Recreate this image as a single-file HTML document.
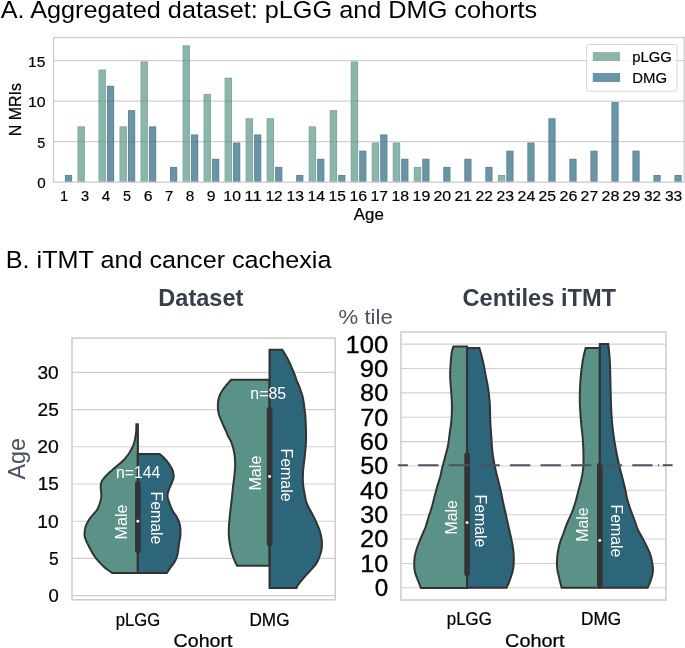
<!DOCTYPE html>
<html><head><meta charset="utf-8"><style>
html,body{margin:0;padding:0;background:#fff;}
body{width:685px;height:648px;overflow:hidden;}
svg{display:block;font-family:"Liberation Sans",sans-serif;will-change:transform;}
</style></head><body>
<svg width="685" height="648" viewBox="0 0 685 648">
<rect width="685" height="648" fill="#fff"/>
<g stroke="#d0d0d0" stroke-width="1.1">
<line x1="53.5" x2="684.1" y1="141.67" y2="141.67"/>
<line x1="53.5" x2="684.1" y1="101.14" y2="101.14"/>
<line x1="53.5" x2="684.1" y1="60.60" y2="60.60"/>
</g>
<rect x="64.91" y="174.99" width="7.20" height="7.01" fill="rgba(44,103,126,0.7)"/>
<path d="M65.41,181.5 V175.49 H71.61 V181.5" fill="none" stroke="rgba(20,70,95,0.12)" stroke-width="1"/>
<rect x="77.48" y="126.35" width="7.40" height="55.65" fill="rgba(91,149,137,0.7)"/>
<path d="M77.98,181.5 V126.85 H84.38 V181.5" fill="none" stroke="rgba(60,110,100,0.12)" stroke-width="1"/>
<rect x="98.50" y="69.61" width="7.40" height="112.39" fill="rgba(91,149,137,0.7)"/>
<path d="M99.00,181.5 V70.11 H105.40 V181.5" fill="none" stroke="rgba(60,110,100,0.12)" stroke-width="1"/>
<rect x="106.95" y="85.82" width="7.20" height="96.18" fill="rgba(44,103,126,0.7)"/>
<path d="M107.45,181.5 V86.32 H113.65 V181.5" fill="none" stroke="rgba(20,70,95,0.12)" stroke-width="1"/>
<rect x="119.52" y="126.35" width="7.40" height="55.65" fill="rgba(91,149,137,0.7)"/>
<path d="M120.02,181.5 V126.85 H126.42 V181.5" fill="none" stroke="rgba(60,110,100,0.12)" stroke-width="1"/>
<rect x="127.97" y="110.14" width="7.20" height="71.86" fill="rgba(44,103,126,0.7)"/>
<path d="M128.47,181.5 V110.64 H134.67 V181.5" fill="none" stroke="rgba(20,70,95,0.12)" stroke-width="1"/>
<rect x="140.54" y="61.50" width="7.40" height="120.50" fill="rgba(91,149,137,0.7)"/>
<path d="M141.04,181.5 V62.00 H147.44 V181.5" fill="none" stroke="rgba(60,110,100,0.12)" stroke-width="1"/>
<rect x="148.99" y="126.35" width="7.20" height="55.65" fill="rgba(44,103,126,0.7)"/>
<path d="M149.49,181.5 V126.85 H155.69 V181.5" fill="none" stroke="rgba(20,70,95,0.12)" stroke-width="1"/>
<rect x="170.01" y="166.89" width="7.20" height="15.11" fill="rgba(44,103,126,0.7)"/>
<path d="M170.51,181.5 V167.39 H176.71 V181.5" fill="none" stroke="rgba(20,70,95,0.12)" stroke-width="1"/>
<rect x="182.58" y="45.29" width="7.40" height="136.71" fill="rgba(91,149,137,0.7)"/>
<path d="M183.08,181.5 V45.79 H189.48 V181.5" fill="none" stroke="rgba(60,110,100,0.12)" stroke-width="1"/>
<rect x="191.03" y="134.46" width="7.20" height="47.54" fill="rgba(44,103,126,0.7)"/>
<path d="M191.53,181.5 V134.96 H197.73 V181.5" fill="none" stroke="rgba(20,70,95,0.12)" stroke-width="1"/>
<rect x="203.60" y="93.93" width="7.40" height="88.07" fill="rgba(91,149,137,0.7)"/>
<path d="M204.10,181.5 V94.43 H210.50 V181.5" fill="none" stroke="rgba(60,110,100,0.12)" stroke-width="1"/>
<rect x="212.05" y="158.78" width="7.20" height="23.22" fill="rgba(44,103,126,0.7)"/>
<path d="M212.55,181.5 V159.28 H218.75 V181.5" fill="none" stroke="rgba(20,70,95,0.12)" stroke-width="1"/>
<rect x="224.62" y="77.72" width="7.40" height="104.28" fill="rgba(91,149,137,0.7)"/>
<path d="M225.12,181.5 V78.22 H231.52 V181.5" fill="none" stroke="rgba(60,110,100,0.12)" stroke-width="1"/>
<rect x="233.07" y="142.57" width="7.20" height="39.43" fill="rgba(44,103,126,0.7)"/>
<path d="M233.57,181.5 V143.07 H239.77 V181.5" fill="none" stroke="rgba(20,70,95,0.12)" stroke-width="1"/>
<rect x="245.64" y="118.25" width="7.40" height="63.75" fill="rgba(91,149,137,0.7)"/>
<path d="M246.14,181.5 V118.75 H252.54 V181.5" fill="none" stroke="rgba(60,110,100,0.12)" stroke-width="1"/>
<rect x="254.09" y="134.46" width="7.20" height="47.54" fill="rgba(44,103,126,0.7)"/>
<path d="M254.59,181.5 V134.96 H260.79 V181.5" fill="none" stroke="rgba(20,70,95,0.12)" stroke-width="1"/>
<rect x="266.66" y="118.25" width="7.40" height="63.75" fill="rgba(91,149,137,0.7)"/>
<path d="M267.16,181.5 V118.75 H273.56 V181.5" fill="none" stroke="rgba(60,110,100,0.12)" stroke-width="1"/>
<rect x="275.11" y="166.89" width="7.20" height="15.11" fill="rgba(44,103,126,0.7)"/>
<path d="M275.61,181.5 V167.39 H281.81 V181.5" fill="none" stroke="rgba(20,70,95,0.12)" stroke-width="1"/>
<rect x="296.13" y="174.99" width="7.20" height="7.01" fill="rgba(44,103,126,0.7)"/>
<path d="M296.63,181.5 V175.49 H302.83 V181.5" fill="none" stroke="rgba(20,70,95,0.12)" stroke-width="1"/>
<rect x="308.70" y="126.35" width="7.40" height="55.65" fill="rgba(91,149,137,0.7)"/>
<path d="M309.20,181.5 V126.85 H315.60 V181.5" fill="none" stroke="rgba(60,110,100,0.12)" stroke-width="1"/>
<rect x="317.15" y="158.78" width="7.20" height="23.22" fill="rgba(44,103,126,0.7)"/>
<path d="M317.65,181.5 V159.28 H323.85 V181.5" fill="none" stroke="rgba(20,70,95,0.12)" stroke-width="1"/>
<rect x="329.72" y="110.14" width="7.40" height="71.86" fill="rgba(91,149,137,0.7)"/>
<path d="M330.22,181.5 V110.64 H336.62 V181.5" fill="none" stroke="rgba(60,110,100,0.12)" stroke-width="1"/>
<rect x="338.17" y="174.99" width="7.20" height="7.01" fill="rgba(44,103,126,0.7)"/>
<path d="M338.67,181.5 V175.49 H344.87 V181.5" fill="none" stroke="rgba(20,70,95,0.12)" stroke-width="1"/>
<rect x="350.74" y="61.50" width="7.40" height="120.50" fill="rgba(91,149,137,0.7)"/>
<path d="M351.24,181.5 V62.00 H357.64 V181.5" fill="none" stroke="rgba(60,110,100,0.12)" stroke-width="1"/>
<rect x="359.19" y="150.67" width="7.20" height="31.33" fill="rgba(44,103,126,0.7)"/>
<path d="M359.69,181.5 V151.17 H365.89 V181.5" fill="none" stroke="rgba(20,70,95,0.12)" stroke-width="1"/>
<rect x="371.76" y="142.57" width="7.40" height="39.43" fill="rgba(91,149,137,0.7)"/>
<path d="M372.26,181.5 V143.07 H378.66 V181.5" fill="none" stroke="rgba(60,110,100,0.12)" stroke-width="1"/>
<rect x="380.21" y="134.46" width="7.20" height="47.54" fill="rgba(44,103,126,0.7)"/>
<path d="M380.71,181.5 V134.96 H386.91 V181.5" fill="none" stroke="rgba(20,70,95,0.12)" stroke-width="1"/>
<rect x="392.78" y="142.57" width="7.40" height="39.43" fill="rgba(91,149,137,0.7)"/>
<path d="M393.28,181.5 V143.07 H399.68 V181.5" fill="none" stroke="rgba(60,110,100,0.12)" stroke-width="1"/>
<rect x="401.23" y="158.78" width="7.20" height="23.22" fill="rgba(44,103,126,0.7)"/>
<path d="M401.73,181.5 V159.28 H407.93 V181.5" fill="none" stroke="rgba(20,70,95,0.12)" stroke-width="1"/>
<rect x="413.80" y="166.89" width="7.40" height="15.11" fill="rgba(91,149,137,0.7)"/>
<path d="M414.30,181.5 V167.39 H420.70 V181.5" fill="none" stroke="rgba(60,110,100,0.12)" stroke-width="1"/>
<rect x="422.25" y="158.78" width="7.20" height="23.22" fill="rgba(44,103,126,0.7)"/>
<path d="M422.75,181.5 V159.28 H428.95 V181.5" fill="none" stroke="rgba(20,70,95,0.12)" stroke-width="1"/>
<rect x="443.27" y="166.89" width="7.20" height="15.11" fill="rgba(44,103,126,0.7)"/>
<path d="M443.77,181.5 V167.39 H449.97 V181.5" fill="none" stroke="rgba(20,70,95,0.12)" stroke-width="1"/>
<rect x="464.29" y="158.78" width="7.20" height="23.22" fill="rgba(44,103,126,0.7)"/>
<path d="M464.79,181.5 V159.28 H470.99 V181.5" fill="none" stroke="rgba(20,70,95,0.12)" stroke-width="1"/>
<rect x="485.31" y="166.89" width="7.20" height="15.11" fill="rgba(44,103,126,0.7)"/>
<path d="M485.81,181.5 V167.39 H492.01 V181.5" fill="none" stroke="rgba(20,70,95,0.12)" stroke-width="1"/>
<rect x="497.88" y="174.99" width="7.40" height="7.01" fill="rgba(91,149,137,0.7)"/>
<path d="M498.38,181.5 V175.49 H504.78 V181.5" fill="none" stroke="rgba(60,110,100,0.12)" stroke-width="1"/>
<rect x="506.33" y="150.67" width="7.20" height="31.33" fill="rgba(44,103,126,0.7)"/>
<path d="M506.83,181.5 V151.17 H513.03 V181.5" fill="none" stroke="rgba(20,70,95,0.12)" stroke-width="1"/>
<rect x="527.35" y="142.57" width="7.20" height="39.43" fill="rgba(44,103,126,0.7)"/>
<path d="M527.85,181.5 V143.07 H534.05 V181.5" fill="none" stroke="rgba(20,70,95,0.12)" stroke-width="1"/>
<rect x="548.37" y="118.25" width="7.20" height="63.75" fill="rgba(44,103,126,0.7)"/>
<path d="M548.87,181.5 V118.75 H555.07 V181.5" fill="none" stroke="rgba(20,70,95,0.12)" stroke-width="1"/>
<rect x="569.39" y="158.78" width="7.20" height="23.22" fill="rgba(44,103,126,0.7)"/>
<path d="M569.89,181.5 V159.28 H576.09 V181.5" fill="none" stroke="rgba(20,70,95,0.12)" stroke-width="1"/>
<rect x="590.41" y="150.67" width="7.20" height="31.33" fill="rgba(44,103,126,0.7)"/>
<path d="M590.91,181.5 V151.17 H597.11 V181.5" fill="none" stroke="rgba(20,70,95,0.12)" stroke-width="1"/>
<rect x="611.43" y="102.04" width="7.20" height="79.96" fill="rgba(44,103,126,0.7)"/>
<path d="M611.93,181.5 V102.54 H618.13 V181.5" fill="none" stroke="rgba(20,70,95,0.12)" stroke-width="1"/>
<rect x="632.45" y="150.67" width="7.20" height="31.33" fill="rgba(44,103,126,0.7)"/>
<path d="M632.95,181.5 V151.17 H639.15 V181.5" fill="none" stroke="rgba(20,70,95,0.12)" stroke-width="1"/>
<rect x="653.47" y="174.99" width="7.20" height="7.01" fill="rgba(44,103,126,0.7)"/>
<path d="M653.97,181.5 V175.49 H660.17 V181.5" fill="none" stroke="rgba(20,70,95,0.12)" stroke-width="1"/>
<rect x="674.49" y="174.99" width="7.20" height="7.01" fill="rgba(44,103,126,0.7)"/>
<path d="M674.99,181.5 V175.49 H681.19 V181.5" fill="none" stroke="rgba(20,70,95,0.12)" stroke-width="1"/>
<rect x="53.5" y="37.5" width="630.60" height="144.70" fill="none" stroke="#cccccc" stroke-width="1.3"/>
<rect x="586.6" y="44.5" width="90.5" height="46.7" rx="2.5" fill="rgba(255,255,255,0.8)" stroke="#d6d6d6" stroke-width="1"/>
<rect x="592.8" y="52.1" width="27.3" height="8.9" fill="rgba(91,149,137,0.7)"/>
<rect x="592.8" y="73" width="27.3" height="9" fill="rgba(44,103,126,0.7)"/>
<g stroke="#d0d0d0" stroke-width="1.1">
<line x1="72" x2="335.2" y1="595.60" y2="595.60"/>
<line x1="72" x2="335.2" y1="558.40" y2="558.40"/>
<line x1="72" x2="335.2" y1="521.20" y2="521.20"/>
<line x1="72" x2="335.2" y1="484.00" y2="484.00"/>
<line x1="72" x2="335.2" y1="446.80" y2="446.80"/>
<line x1="72" x2="335.2" y1="409.60" y2="409.60"/>
<line x1="72" x2="335.2" y1="372.40" y2="372.40"/>
</g>
<g stroke="#d0d0d0" stroke-width="1.1">
<line x1="401" x2="666" y1="587.80" y2="587.80"/>
<line x1="401" x2="666" y1="563.43" y2="563.43"/>
<line x1="401" x2="666" y1="539.06" y2="539.06"/>
<line x1="401" x2="666" y1="514.69" y2="514.69"/>
<line x1="401" x2="666" y1="490.32" y2="490.32"/>
<line x1="401" x2="666" y1="465.95" y2="465.95"/>
<line x1="401" x2="666" y1="441.58" y2="441.58"/>
<line x1="401" x2="666" y1="417.21" y2="417.21"/>
<line x1="401" x2="666" y1="392.84" y2="392.84"/>
<line x1="401" x2="666" y1="368.47" y2="368.47"/>
<line x1="401" x2="666" y1="344.10" y2="344.10"/>
</g>
<path d="M137.80,424.30 L136.40,424.30  C136.37,425.42 136.33,429.05 136.20,431.00 C136.07,432.95 135.80,434.65 135.60,436.00 C135.40,437.35 135.22,438.07 135.00,439.10 C134.78,440.13 134.58,441.17 134.30,442.20 C134.02,443.23 133.70,444.28 133.30,445.30 C132.90,446.32 132.42,447.28 131.90,448.30 C131.38,449.32 130.82,450.37 130.20,451.40 C129.58,452.43 128.97,453.43 128.20,454.50 C127.43,455.57 126.52,456.72 125.60,457.80 C124.68,458.88 123.70,460.00 122.70,461.00 C121.70,462.00 120.65,462.90 119.60,463.80 C118.55,464.70 117.60,465.38 116.40,466.40 C115.20,467.42 113.65,468.80 112.40,469.90 C111.15,471.00 110.00,471.98 108.90,473.00 C107.80,474.02 106.73,475.00 105.80,476.00 C104.87,477.00 103.97,478.13 103.30,479.00 C102.63,479.87 102.23,479.95 101.80,481.20 C101.37,482.45 100.82,484.75 100.70,486.50 C100.58,488.25 101.00,489.95 101.10,491.70 C101.20,493.45 101.52,495.03 101.30,497.00 C101.08,498.97 100.55,501.30 99.80,503.50 C99.05,505.70 98.05,508.20 96.80,510.20 C95.55,512.20 93.70,513.75 92.30,515.50 C90.90,517.25 89.48,518.95 88.40,520.70 C87.32,522.45 86.42,524.25 85.80,526.00 C85.18,527.75 84.88,529.45 84.70,531.20 C84.52,532.95 84.35,534.67 84.70,536.50 C85.05,538.33 85.93,540.23 86.80,542.20 C87.67,544.17 88.82,546.25 89.90,548.30 C90.98,550.35 91.97,552.43 93.30,554.50 C94.63,556.57 96.10,558.63 97.90,560.70 C99.70,562.77 101.75,564.85 104.10,566.90 C106.45,568.95 110.68,571.98 112.00,573.00 L137.80,573.00 Z" fill="#5b9287" stroke="#333333" stroke-width="2" stroke-linejoin="miter" stroke-miterlimit="4"/>
<path d="M137.80,453.90 L159.60,453.90  C160.23,454.47 161.88,455.70 163.40,457.30 C164.92,458.90 167.20,461.43 168.70,463.50 C170.20,465.57 171.58,467.78 172.40,469.70 C173.22,471.62 173.42,473.62 173.60,475.00 C173.78,476.38 173.82,476.63 173.50,478.00 C173.18,479.37 172.40,481.45 171.70,483.20 C171.00,484.95 169.97,486.75 169.30,488.50 C168.63,490.25 167.98,492.37 167.70,493.70 C167.42,495.03 167.55,495.62 167.60,496.50 C167.65,497.38 167.63,497.72 168.00,499.00 C168.37,500.28 168.98,502.17 169.80,504.20 C170.62,506.23 171.78,509.15 172.90,511.20 C174.02,513.25 175.50,514.75 176.50,516.50 C177.50,518.25 178.28,519.95 178.90,521.70 C179.52,523.45 179.93,525.25 180.20,527.00 C180.47,528.75 180.50,530.45 180.50,532.20 C180.50,533.95 180.38,536.03 180.20,537.50 C180.02,538.97 179.63,539.65 179.40,541.00 C179.17,542.35 179.02,543.92 178.80,545.60 C178.58,547.28 178.42,549.25 178.10,551.10 C177.78,552.95 177.52,554.85 176.90,556.70 C176.28,558.55 175.52,560.35 174.40,562.20 C173.28,564.05 171.47,566.00 170.20,567.80 C168.93,569.60 167.37,572.13 166.80,573.00 L137.80,573.00 Z" fill="#2d657a" stroke="#333333" stroke-width="2" stroke-linejoin="miter" stroke-miterlimit="4"/>
<path d="M269.60,379.80 L231.00,379.80  C230.33,380.58 228.37,382.85 227.00,384.50 C225.63,386.15 223.98,387.95 222.80,389.70 C221.62,391.45 220.65,393.25 219.90,395.00 C219.15,396.75 218.63,398.53 218.30,400.20 C217.97,401.87 217.93,403.33 217.90,405.00 C217.87,406.67 217.88,408.45 218.10,410.20 C218.32,411.95 218.67,413.75 219.20,415.50 C219.73,417.25 220.57,418.95 221.30,420.70 C222.03,422.45 222.82,424.25 223.60,426.00 C224.38,427.75 225.27,429.53 226.00,431.20 C226.73,432.87 227.18,434.33 228.00,436.00 C228.82,437.67 230.12,439.45 230.90,441.20 C231.68,442.95 232.18,444.75 232.70,446.50 C233.22,448.25 233.65,449.95 234.00,451.70 C234.35,453.45 234.62,455.25 234.80,457.00 C234.98,458.75 235.05,460.45 235.10,462.20 C235.15,463.95 235.23,465.12 235.10,467.50 C234.97,469.88 234.65,473.25 234.30,476.50 C233.95,479.75 233.37,483.75 233.00,487.00 C232.63,490.25 232.45,492.75 232.10,496.00 C231.75,499.25 231.30,503.00 230.90,506.50 C230.50,510.00 230.05,513.33 229.70,517.00 C229.35,520.67 228.93,525.30 228.80,528.50 C228.67,531.70 228.77,533.90 228.90,536.20 C229.03,538.50 229.30,540.25 229.60,542.30 C229.90,544.35 230.23,546.43 230.70,548.50 C231.17,550.57 231.73,552.63 232.40,554.70 C233.07,556.77 233.92,559.05 234.70,560.90 C235.48,562.75 236.70,564.98 237.10,565.80 L269.60,565.80 Z" fill="#5b9287" stroke="#333333" stroke-width="2" stroke-linejoin="miter" stroke-miterlimit="4"/>
<path d="M269.60,349.80 L282.30,349.80  C283.27,351.45 286.35,356.30 288.10,359.70 C289.85,363.10 291.62,367.48 292.80,370.20 C293.98,372.92 294.52,374.17 295.20,376.00 C295.88,377.83 296.22,379.45 296.90,381.20 C297.58,382.95 298.60,384.75 299.30,386.50 C300.00,388.25 300.53,389.95 301.10,391.70 C301.67,393.45 302.27,395.25 302.70,397.00 C303.13,398.75 303.43,400.53 303.70,402.20 C303.97,403.87 304.02,404.62 304.30,407.00 C304.58,409.38 305.13,413.17 305.40,416.50 C305.67,419.83 305.78,423.50 305.90,427.00 C306.02,430.50 306.13,434.25 306.10,437.50 C306.07,440.75 305.93,443.25 305.70,446.50 C305.47,449.75 305.05,453.75 304.70,457.00 C304.35,460.25 303.87,463.63 303.60,466.00 C303.33,468.37 303.22,469.45 303.10,471.20 C302.98,472.95 302.93,474.75 302.90,476.50 C302.87,478.25 302.82,479.95 302.90,481.70 C302.98,483.45 303.17,485.25 303.40,487.00 C303.63,488.75 304.00,490.53 304.30,492.20 C304.60,493.87 304.88,495.38 305.20,497.00 C305.52,498.62 305.60,500.12 306.20,501.90 C306.80,503.68 307.82,505.75 308.80,507.70 C309.78,509.65 311.07,511.65 312.10,513.60 C313.13,515.55 314.08,517.45 315.00,519.40 C315.92,521.35 316.85,523.53 317.60,525.30 C318.35,527.07 319.00,528.57 319.50,530.00 C320.00,531.43 320.23,532.28 320.60,533.90 C320.97,535.52 321.48,537.75 321.70,539.70 C321.92,541.65 321.98,543.65 321.90,545.60 C321.82,547.55 321.65,549.42 321.20,551.40 C320.75,553.38 320.02,555.47 319.20,557.50 C318.38,559.53 317.57,561.67 316.30,563.60 C315.03,565.53 313.22,567.25 311.60,569.10 C309.98,570.95 308.23,572.85 306.60,574.70 C304.97,576.55 303.33,578.35 301.80,580.20 C300.27,582.05 298.27,584.50 297.40,585.80 C296.53,587.10 296.73,587.63 296.60,588.00 L269.60,588.00 Z" fill="#2d657a" stroke="#333333" stroke-width="2" stroke-linejoin="miter" stroke-miterlimit="4"/>
<path d="M467.10,346.50 L453.40,346.50  C453.17,347.25 452.35,349.47 452.00,351.00 C451.65,352.53 451.55,353.17 451.30,355.70 C451.05,358.23 450.68,363.48 450.50,366.20 C450.32,368.92 450.23,369.70 450.20,372.00 C450.17,374.30 450.18,377.38 450.30,380.00 C450.42,382.62 450.70,385.03 450.90,387.70 C451.10,390.37 451.33,393.28 451.50,396.00 C451.67,398.72 451.85,400.92 451.90,404.00 C451.95,407.08 451.87,411.88 451.80,414.50 C451.73,417.12 451.65,417.95 451.50,419.70 C451.35,421.45 451.13,423.25 450.90,425.00 C450.67,426.75 450.33,428.53 450.10,430.20 C449.87,431.87 449.88,432.28 449.50,435.00 C449.12,437.72 448.53,442.83 447.80,446.50 C447.07,450.17 446.02,453.50 445.10,457.00 C444.18,460.50 443.10,464.25 442.30,467.50 C441.50,470.75 441.17,473.25 440.30,476.50 C439.43,479.75 438.10,483.50 437.10,487.00 C436.10,490.50 435.15,494.25 434.30,497.50 C433.45,500.75 432.95,503.25 432.00,506.50 C431.05,509.75 429.67,513.58 428.60,517.00 C427.53,520.42 426.40,524.63 425.60,527.00 C424.80,529.37 424.48,529.62 423.80,531.20 C423.12,532.78 422.23,534.75 421.50,536.50 C420.77,538.25 420.10,539.95 419.40,541.70 C418.70,543.45 417.92,545.25 417.30,547.00 C416.68,548.75 416.13,550.53 415.70,552.20 C415.27,553.87 414.93,555.43 414.70,557.00 C414.47,558.57 414.37,559.92 414.30,561.60 C414.23,563.28 414.17,565.25 414.30,567.10 C414.43,568.95 414.63,570.85 415.10,572.70 C415.57,574.55 416.40,576.35 417.10,578.20 C417.80,580.05 418.67,582.18 419.30,583.80 C419.93,585.42 420.63,587.22 420.90,587.90 L467.10,587.90 Z" fill="#5b9287" stroke="#333333" stroke-width="2" stroke-linejoin="miter" stroke-miterlimit="4"/>
<path d="M467.10,348.00 L479.40,348.00  C479.85,349.62 481.35,354.77 482.10,357.70 C482.85,360.63 483.35,362.88 483.90,365.60 C484.45,368.32 484.80,370.85 485.40,374.00 C486.00,377.15 486.90,381.00 487.50,384.50 C488.10,388.00 488.60,391.50 489.00,395.00 C489.40,398.50 489.68,401.05 489.90,405.50 C490.12,409.95 490.05,416.37 490.30,421.70 C490.55,427.03 491.10,433.03 491.40,437.50 C491.70,441.97 491.77,444.92 492.10,448.50 C492.43,452.08 492.83,455.50 493.40,459.00 C493.97,462.50 494.70,465.92 495.50,469.50 C496.30,473.08 497.32,476.92 498.20,480.50 C499.08,484.08 500.02,487.50 500.80,491.00 C501.58,494.50 502.13,497.92 502.90,501.50 C503.67,505.08 504.60,508.92 505.40,512.50 C506.20,516.08 506.92,519.50 507.70,523.00 C508.48,526.50 509.32,529.92 510.10,533.50 C510.88,537.08 511.82,541.25 512.40,544.50 C512.98,547.75 513.37,550.42 513.60,553.00 C513.83,555.58 513.80,557.97 513.80,560.00 C513.80,562.03 513.77,563.45 513.60,565.20 C513.43,566.95 513.18,568.75 512.80,570.50 C512.42,572.25 511.85,573.95 511.30,575.70 C510.75,577.45 510.17,579.25 509.50,581.00 C508.83,582.75 507.78,585.07 507.30,586.20 C506.82,587.33 506.72,587.53 506.60,587.80 L467.10,587.80 Z" fill="#2d657a" stroke="#333333" stroke-width="2" stroke-linejoin="miter" stroke-miterlimit="4"/>
<path d="M599.80,348.00 L585.70,348.00  C585.30,349.62 583.97,354.33 583.30,357.70 C582.63,361.07 582.10,365.32 581.70,368.20 C581.30,371.08 581.15,372.28 580.90,375.00 C580.65,377.72 580.38,381.17 580.20,384.50 C580.02,387.83 579.85,391.58 579.80,395.00 C579.75,398.42 579.77,401.42 579.90,405.00 C580.03,408.58 580.33,412.83 580.60,416.50 C580.87,420.17 581.15,423.50 581.50,427.00 C581.85,430.50 582.40,433.92 582.70,437.50 C583.00,441.08 583.17,444.92 583.30,448.50 C583.43,452.08 583.53,455.50 583.50,459.00 C583.47,462.50 583.50,465.92 583.10,469.50 C582.70,473.08 581.90,476.92 581.10,480.50 C580.30,484.08 579.23,487.42 578.30,491.00 C577.37,494.58 576.57,498.42 575.50,502.00 C574.43,505.58 573.28,509.00 571.90,512.50 C570.52,516.00 568.65,519.42 567.20,523.00 C565.75,526.58 564.20,531.30 563.20,534.00 C562.20,536.70 561.82,537.45 561.20,539.20 C560.58,540.95 559.98,542.75 559.50,544.50 C559.02,546.25 558.65,547.95 558.30,549.70 C557.95,551.45 557.62,553.25 557.40,555.00 C557.18,556.75 557.07,558.48 557.00,560.20 C556.93,561.92 556.92,563.58 557.00,565.30 C557.08,567.02 557.22,568.77 557.50,570.50 C557.78,572.23 558.30,573.95 558.70,575.70 C559.10,577.45 559.48,579.25 559.90,581.00 C560.32,582.75 560.90,585.07 561.20,586.20 C561.50,587.33 561.62,587.53 561.70,587.80 L599.80,587.80 Z" fill="#5b9287" stroke="#333333" stroke-width="2" stroke-linejoin="miter" stroke-miterlimit="4"/>
<path d="M599.80,344.00 L608.20,344.00  C608.38,345.62 609.00,350.33 609.30,353.70 C609.60,357.07 609.85,361.22 610.00,364.20 C610.15,367.18 610.10,367.20 610.20,371.60 C610.30,376.00 610.47,385.20 610.60,390.60 C610.73,396.00 610.85,400.02 611.00,404.00 C611.15,407.98 611.28,411.00 611.50,414.50 C611.72,418.00 611.95,421.50 612.30,425.00 C612.65,428.50 613.10,431.92 613.60,435.50 C614.10,439.08 614.67,442.92 615.30,446.50 C615.93,450.08 616.67,453.50 617.40,457.00 C618.13,460.50 618.83,463.92 619.70,467.50 C620.57,471.08 621.68,474.92 622.60,478.50 C623.52,482.08 624.42,485.50 625.20,489.00 C625.98,492.50 626.35,495.92 627.30,499.50 C628.25,503.08 629.65,506.92 630.90,510.50 C632.15,514.08 633.62,517.75 634.80,521.00 C635.98,524.25 636.95,527.57 638.00,530.00 C639.05,532.43 640.08,533.75 641.10,535.60 C642.12,537.45 643.13,539.25 644.10,541.10 C645.07,542.95 646.02,544.85 646.90,546.70 C647.78,548.55 648.68,550.35 649.40,552.20 C650.12,554.05 650.72,555.93 651.20,557.80 C651.68,559.67 652.00,561.52 652.30,563.40 C652.60,565.28 652.98,567.22 653.00,569.10 C653.02,570.98 652.77,572.85 652.40,574.70 C652.03,576.55 651.35,578.53 650.80,580.20 C650.25,581.87 649.62,583.45 649.10,584.70 C648.58,585.95 647.93,587.20 647.70,587.70 L599.80,587.70 Z" fill="#2d657a" stroke="#333333" stroke-width="2" stroke-linejoin="miter" stroke-miterlimit="4"/>
<line x1="137.85" x2="137.85" y1="424.5" y2="573.3" stroke="#333333" stroke-width="1.6"/>
<line x1="137.85" x2="137.85" y1="483.5" y2="550.5" stroke="#333333" stroke-width="5.6" stroke-linecap="round"/>
<circle cx="137.85" cy="521.3" r="1.45" fill="#fff"/>
<line x1="269.6" x2="269.6" y1="349.9" y2="588.1" stroke="#333333" stroke-width="1.6"/>
<line x1="269.6" x2="269.6" y1="409.5" y2="543.5" stroke="#333333" stroke-width="5.6" stroke-linecap="round"/>
<circle cx="269.6" cy="476.5" r="1.45" fill="#fff"/>
<line x1="467.1" x2="467.1" y1="346.5" y2="587.8" stroke="#333333" stroke-width="1.6"/>
<line x1="467.1" x2="467.1" y1="455" y2="573.5" stroke="#333333" stroke-width="5.6" stroke-linecap="round"/>
<circle cx="467.1" cy="522.6" r="1.45" fill="#fff"/>
<line x1="599.8" x2="599.8" y1="343.9" y2="587.8" stroke="#333333" stroke-width="1.6"/>
<line x1="599.8" x2="599.8" y1="465.5" y2="584.5" stroke="#333333" stroke-width="5.6" stroke-linecap="round"/>
<circle cx="599.8" cy="540.5" r="1.45" fill="#fff"/>
<rect x="72" y="338.1" width="263.20" height="261.70" fill="none" stroke="#cccccc" stroke-width="1.5"/>
<rect x="401" y="332" width="265.00" height="268.00" fill="none" stroke="#cccccc" stroke-width="1.5"/>
<line x1="397.9" x2="652.5" y1="465.2" y2="465.2" stroke="#4b5365" stroke-width="2" stroke-dasharray="20.4 10.2" stroke-dashoffset="10.4"/>
<line x1="657.8" x2="658.9" y1="465.2" y2="465.2" stroke="#4b5365" stroke-width="2"/>
<line x1="662.8" x2="672.6" y1="465.2" y2="465.2" stroke="#4b5365" stroke-width="2"/>
<text x="0.65" y="17.80" font-size="24.50" fill="#000" textLength="536.57" lengthAdjust="spacingAndGlyphs">A. Aggregated dataset: pLGG and DMG cohorts</text>
<text x="5.84" y="267.70" font-size="24.50" fill="#000" textLength="325.56" lengthAdjust="spacingAndGlyphs">B. iTMT and cancer cachexia</text>
<text x="37.20" y="188.00" font-size="15.26" stroke="#000" stroke-width="0.20" fill="#000" textLength="8.44" lengthAdjust="spacingAndGlyphs">0</text>
<text x="37.37" y="147.50" font-size="15.26" stroke="#000" stroke-width="0.20" fill="#000" textLength="7.97" lengthAdjust="spacingAndGlyphs">5</text>
<text x="28.06" y="107.00" font-size="15.26" stroke="#000" stroke-width="0.20" fill="#000" textLength="17.61" lengthAdjust="spacingAndGlyphs">10</text>
<text x="28.08" y="66.50" font-size="15.26" stroke="#000" stroke-width="0.20" fill="#000" textLength="17.32" lengthAdjust="spacingAndGlyphs">15</text>
<text x="59.91" y="201.40" font-size="15.26" stroke="#000" stroke-width="0.20" fill="#000" textLength="8.06" lengthAdjust="spacingAndGlyphs">1</text>
<text x="80.99" y="201.40" font-size="15.26" stroke="#000" stroke-width="0.20" fill="#000" textLength="8.11" lengthAdjust="spacingAndGlyphs">3</text>
<text x="101.83" y="201.40" font-size="15.26" stroke="#000" stroke-width="0.20" fill="#000" textLength="8.44" lengthAdjust="spacingAndGlyphs">4</text>
<text x="123.02" y="201.40" font-size="15.26" stroke="#000" stroke-width="0.20" fill="#000" textLength="7.97" lengthAdjust="spacingAndGlyphs">5</text>
<text x="143.72" y="201.40" font-size="15.26" stroke="#000" stroke-width="0.20" fill="#000" textLength="8.74" lengthAdjust="spacingAndGlyphs">6</text>
<text x="164.95" y="201.40" font-size="15.26" stroke="#000" stroke-width="0.20" fill="#000" textLength="8.26" lengthAdjust="spacingAndGlyphs">7</text>
<text x="185.87" y="201.40" font-size="15.26" stroke="#000" stroke-width="0.20" fill="#000" textLength="8.52" lengthAdjust="spacingAndGlyphs">8</text>
<text x="206.74" y="201.40" font-size="15.26" stroke="#000" stroke-width="0.20" fill="#000" textLength="8.72" lengthAdjust="spacingAndGlyphs">9</text>
<text x="223.39" y="201.40" font-size="15.26" stroke="#000" stroke-width="0.20" fill="#000" textLength="17.61" lengthAdjust="spacingAndGlyphs">10</text>
<text x="244.33" y="201.40" font-size="15.26" stroke="#000" stroke-width="0.20" fill="#000" textLength="17.52" lengthAdjust="spacingAndGlyphs">11</text>
<text x="265.45" y="201.40" font-size="15.26" stroke="#000" stroke-width="0.20" fill="#000" textLength="17.25" lengthAdjust="spacingAndGlyphs">12</text>
<text x="286.46" y="201.40" font-size="15.26" stroke="#000" stroke-width="0.20" fill="#000" textLength="17.47" lengthAdjust="spacingAndGlyphs">13</text>
<text x="307.47" y="201.40" font-size="15.26" stroke="#000" stroke-width="0.20" fill="#000" textLength="17.59" lengthAdjust="spacingAndGlyphs">14</text>
<text x="328.51" y="201.40" font-size="15.26" stroke="#000" stroke-width="0.20" fill="#000" textLength="17.32" lengthAdjust="spacingAndGlyphs">15</text>
<text x="349.50" y="201.40" font-size="15.26" stroke="#000" stroke-width="0.20" fill="#000" textLength="17.74" lengthAdjust="spacingAndGlyphs">16</text>
<text x="370.54" y="201.40" font-size="15.26" stroke="#000" stroke-width="0.20" fill="#000" textLength="17.50" lengthAdjust="spacingAndGlyphs">17</text>
<text x="391.55" y="201.40" font-size="15.26" stroke="#000" stroke-width="0.20" fill="#000" textLength="17.65" lengthAdjust="spacingAndGlyphs">18</text>
<text x="412.56" y="201.40" font-size="15.26" stroke="#000" stroke-width="0.20" fill="#000" textLength="17.69" lengthAdjust="spacingAndGlyphs">19</text>
<text x="433.46" y="201.40" font-size="15.26" stroke="#000" stroke-width="0.20" fill="#000" textLength="17.74" lengthAdjust="spacingAndGlyphs">20</text>
<text x="454.49" y="201.40" font-size="15.26" stroke="#000" stroke-width="0.20" fill="#000" textLength="17.50" lengthAdjust="spacingAndGlyphs">21</text>
<text x="475.52" y="201.40" font-size="15.26" stroke="#000" stroke-width="0.20" fill="#000" textLength="17.39" lengthAdjust="spacingAndGlyphs">22</text>
<text x="496.53" y="201.40" font-size="15.26" stroke="#000" stroke-width="0.20" fill="#000" textLength="17.61" lengthAdjust="spacingAndGlyphs">23</text>
<text x="517.54" y="201.40" font-size="15.26" stroke="#000" stroke-width="0.20" fill="#000" textLength="17.72" lengthAdjust="spacingAndGlyphs">24</text>
<text x="538.57" y="201.40" font-size="15.26" stroke="#000" stroke-width="0.20" fill="#000" textLength="17.46" lengthAdjust="spacingAndGlyphs">25</text>
<text x="559.58" y="201.40" font-size="15.26" stroke="#000" stroke-width="0.20" fill="#000" textLength="17.87" lengthAdjust="spacingAndGlyphs">26</text>
<text x="580.61" y="201.40" font-size="15.26" stroke="#000" stroke-width="0.20" fill="#000" textLength="17.63" lengthAdjust="spacingAndGlyphs">27</text>
<text x="601.62" y="201.40" font-size="15.26" stroke="#000" stroke-width="0.20" fill="#000" textLength="17.78" lengthAdjust="spacingAndGlyphs">28</text>
<text x="622.64" y="201.40" font-size="15.26" stroke="#000" stroke-width="0.20" fill="#000" textLength="17.82" lengthAdjust="spacingAndGlyphs">29</text>
<text x="643.92" y="201.40" font-size="15.26" stroke="#000" stroke-width="0.20" fill="#000" textLength="17.14" lengthAdjust="spacingAndGlyphs">32</text>
<text x="664.93" y="201.40" font-size="15.26" stroke="#000" stroke-width="0.20" fill="#000" textLength="17.35" lengthAdjust="spacingAndGlyphs">33</text>
<text x="353.81" y="219.80" font-size="16.53" stroke="#000" stroke-width="0.21" fill="#000" textLength="30.00" lengthAdjust="spacingAndGlyphs">Age</text>
<text transform="rotate(-90)" x="-136.31" y="20.50" font-size="16.53" stroke="#000" stroke-width="0.21" fill="#000" textLength="53.24" lengthAdjust="spacingAndGlyphs">N MRIs</text>
<text x="632.25" y="61.90" font-size="14.80" stroke="#000" stroke-width="0.19" fill="#000" textLength="39.46" lengthAdjust="spacingAndGlyphs">pLGG</text>
<text x="632.18" y="82.90" font-size="14.80" stroke="#000" stroke-width="0.19" fill="#000" textLength="34.85" lengthAdjust="spacingAndGlyphs">DMG</text>
<text x="158.32" y="305.60" font-size="24.00" font-weight="bold" fill="#373e4a" textLength="85.06" lengthAdjust="spacingAndGlyphs">Dataset</text>
<text x="462.43" y="305.60" font-size="24.00" font-weight="bold" fill="#373e4a" textLength="153.62" lengthAdjust="spacingAndGlyphs">Centiles iTMT</text>
<text x="338.60" y="323.50" font-size="21.00" fill="#4a5261" textLength="54.18" lengthAdjust="spacingAndGlyphs">% tile</text>
<text x="48.46" y="601.90" font-size="18.54" stroke="#000" stroke-width="0.24" fill="#000" textLength="10.26" lengthAdjust="spacingAndGlyphs">0</text>
<text x="49.04" y="564.70" font-size="18.54" stroke="#000" stroke-width="0.24" fill="#000" textLength="9.69" lengthAdjust="spacingAndGlyphs">5</text>
<text x="37.36" y="527.50" font-size="18.54" stroke="#000" stroke-width="0.24" fill="#000" textLength="21.40" lengthAdjust="spacingAndGlyphs">10</text>
<text x="37.75" y="490.30" font-size="18.54" stroke="#000" stroke-width="0.24" fill="#000" textLength="21.05" lengthAdjust="spacingAndGlyphs">15</text>
<text x="37.20" y="453.10" font-size="18.54" stroke="#000" stroke-width="0.24" fill="#000" textLength="21.56" lengthAdjust="spacingAndGlyphs">20</text>
<text x="37.59" y="415.90" font-size="18.54" stroke="#000" stroke-width="0.24" fill="#000" textLength="21.22" lengthAdjust="spacingAndGlyphs">25</text>
<text x="37.50" y="378.70" font-size="18.54" stroke="#000" stroke-width="0.24" fill="#000" textLength="21.25" lengthAdjust="spacingAndGlyphs">30</text>
<text x="374.76" y="596.20" font-size="24.37" stroke="#000" stroke-width="0.32" fill="#000" textLength="13.49" lengthAdjust="spacingAndGlyphs">0</text>
<text x="360.17" y="571.83" font-size="24.37" stroke="#000" stroke-width="0.32" fill="#000" textLength="28.12" lengthAdjust="spacingAndGlyphs">10</text>
<text x="359.97" y="547.46" font-size="24.37" stroke="#000" stroke-width="0.32" fill="#000" textLength="28.33" lengthAdjust="spacingAndGlyphs">20</text>
<text x="360.36" y="523.09" font-size="24.37" stroke="#000" stroke-width="0.32" fill="#000" textLength="27.93" lengthAdjust="spacingAndGlyphs">30</text>
<text x="360.11" y="498.72" font-size="24.37" stroke="#000" stroke-width="0.32" fill="#000" textLength="28.19" lengthAdjust="spacingAndGlyphs">40</text>
<text x="360.33" y="474.35" font-size="24.37" stroke="#000" stroke-width="0.32" fill="#000" textLength="27.96" lengthAdjust="spacingAndGlyphs">50</text>
<text x="359.87" y="449.98" font-size="24.37" stroke="#000" stroke-width="0.32" fill="#000" textLength="28.44" lengthAdjust="spacingAndGlyphs">60</text>
<text x="360.16" y="425.61" font-size="24.37" stroke="#000" stroke-width="0.32" fill="#000" textLength="28.14" lengthAdjust="spacingAndGlyphs">70</text>
<text x="360.03" y="401.24" font-size="24.37" stroke="#000" stroke-width="0.32" fill="#000" textLength="28.27" lengthAdjust="spacingAndGlyphs">80</text>
<text x="359.81" y="376.87" font-size="24.37" stroke="#000" stroke-width="0.32" fill="#000" textLength="28.50" lengthAdjust="spacingAndGlyphs">90</text>
<text x="345.51" y="352.50" font-size="24.37" stroke="#000" stroke-width="0.32" fill="#000" textLength="42.80" lengthAdjust="spacingAndGlyphs">100</text>
<text transform="rotate(-90)" x="-479.55" y="25.00" font-size="23.50" fill="#4a5261" textLength="41.48" lengthAdjust="spacingAndGlyphs">Age</text>
<text x="115.73" y="625.70" font-size="17.48" stroke="#000" stroke-width="0.23" fill="#000" textLength="44.52" lengthAdjust="spacingAndGlyphs">pLGG</text>
<text x="249.49" y="625.60" font-size="17.48" stroke="#000" stroke-width="0.23" fill="#000" textLength="39.99" lengthAdjust="spacingAndGlyphs">DMG</text>
<text x="446.82" y="625.40" font-size="17.48" stroke="#000" stroke-width="0.23" fill="#000" textLength="45.05" lengthAdjust="spacingAndGlyphs">pLGG</text>
<text x="581.09" y="625.40" font-size="17.48" stroke="#000" stroke-width="0.23" fill="#000" textLength="40.10" lengthAdjust="spacingAndGlyphs">DMG</text>
<text x="173.60" y="647.30" font-size="18.54" stroke="#000" stroke-width="0.24" fill="#000" textLength="58.93" lengthAdjust="spacingAndGlyphs">Cohort</text>
<text x="505.09" y="647.00" font-size="18.54" stroke="#000" stroke-width="0.24" fill="#000" textLength="59.54" lengthAdjust="spacingAndGlyphs">Cohort</text>
<text x="115.96" y="478.00" font-size="16.00" fill="#ffffff" textLength="44.20" lengthAdjust="spacingAndGlyphs">n=144</text>
<text x="250.35" y="398.60" font-size="16.30" fill="#ffffff" textLength="35.82" lengthAdjust="spacingAndGlyphs">n=85</text>
<text transform="rotate(-90)" x="-539.42" y="127.10" font-size="15.80" fill="#ffffff" textLength="34.83" lengthAdjust="spacingAndGlyphs">Male</text>
<text transform="rotate(90)" x="491.50" y="-150.70" font-size="15.80" fill="#ffffff" textLength="52.91" lengthAdjust="spacingAndGlyphs">Female</text>
<text transform="rotate(-90)" x="-490.63" y="261.10" font-size="15.80" fill="#ffffff" textLength="35.05" lengthAdjust="spacingAndGlyphs">Male</text>
<text transform="rotate(90)" x="448.50" y="-280.50" font-size="15.80" fill="#ffffff" textLength="53.01" lengthAdjust="spacingAndGlyphs">Female</text>
<text transform="rotate(-90)" x="-534.50" y="457.10" font-size="15.80" fill="#ffffff" textLength="34.41" lengthAdjust="spacingAndGlyphs">Male</text>
<text transform="rotate(90)" x="494.60" y="-475.10" font-size="15.80" fill="#ffffff" textLength="52.80" lengthAdjust="spacingAndGlyphs">Female</text>
<text transform="rotate(-90)" x="-541.80" y="587.80" font-size="15.80" fill="#ffffff" textLength="34.41" lengthAdjust="spacingAndGlyphs">Male</text>
<text transform="rotate(90)" x="504.60" y="-610.80" font-size="15.80" fill="#ffffff" textLength="52.80" lengthAdjust="spacingAndGlyphs">Female</text>
</svg>
</body></html>
